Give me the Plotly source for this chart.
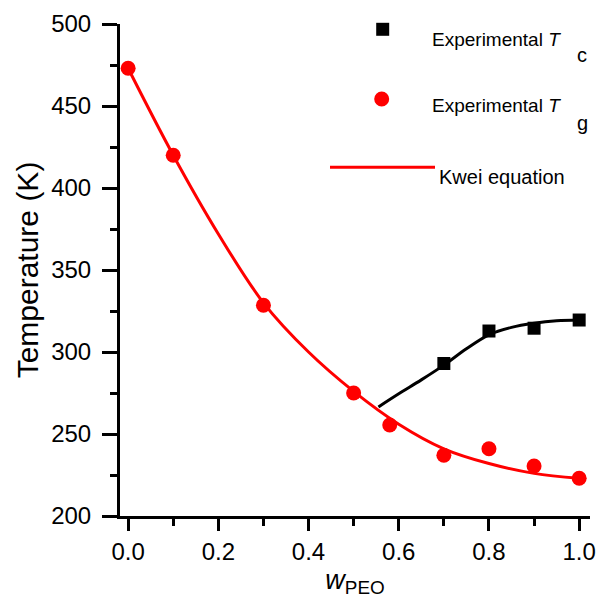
import plotly.graph_objects as go

# ---- data ----
tg_w = [0.0, 0.1, 0.3, 0.5, 0.58, 0.7, 0.8, 0.9, 1.0]
tg_T = [473, 420, 328.5, 275, 255.5, 237, 241, 230.5, 223]

tc_w = [0.7, 0.8, 0.9, 1.0]
tc_T = [293, 312.8, 314.5, 319.5]

kwei_w = [0.0, 0.1, 0.2, 0.3, 0.4, 0.5, 0.6, 0.7, 0.8, 0.9, 1.0]
kwei_T = [473, 420, 372, 330, 300, 276, 256, 241, 232, 226, 223]

tc_fit_w = [0.555, 0.6, 0.65, 0.7, 0.75, 0.8, 0.85, 0.9, 0.95, 1.0]
tc_fit_T = [266.5, 274.5, 283, 292, 302, 310.5, 315, 317.5, 319, 319.5]

y_ticks = [200, 250, 300, 350, 400, 450, 500]
x_ticks = [0.0, 0.2, 0.4, 0.6, 0.8, 1.0]
x_tick_text = ["0.0", "0.2", "0.4", "0.6", "0.8", "1.0"]

RED = "#FF0000"
FONT = "Liberation Sans, Arial, sans-serif"

fig = go.Figure()
fig.add_trace(go.Scatter(x=kwei_w, y=kwei_T, mode="lines", line=dict(color=RED, width=3, shape="spline"),
                         showlegend=False))
fig.add_trace(go.Scatter(x=tc_fit_w, y=tc_fit_T, mode="lines", line=dict(color="black", width=3, shape="spline"),
                         showlegend=False))
fig.add_trace(go.Scatter(x=tg_w, y=tg_T, mode="markers", marker=dict(color=RED, size=15, symbol="circle"),
                         showlegend=False))
fig.add_trace(go.Scatter(x=tc_w, y=tc_T, mode="markers", marker=dict(color="black", size=13, symbol="square"),
                         showlegend=False))

FW, FH = 600, 603
L, R, T, B = 120, 590, 24, 516  # plot area in page pixels
W, H = R - L, B - T


def px(x):
    return (x - L) / W


def py(y):
    return (B - y) / H


shapes = []
# legend square
shapes.append(dict(type="rect", xref="paper", yref="paper",
                   x0=px(382.7 - 6.5), x1=px(382.7 + 6.5), y0=py(29.3 + 6.5), y1=py(29.3 - 6.5),
                   fillcolor="black", line=dict(width=0)))
# legend circle
shapes.append(dict(type="circle", xref="paper", yref="paper",
                   x0=px(381.7 - 7.5), x1=px(381.7 + 7.5), y0=py(99 + 7.5), y1=py(99 - 7.5),
                   fillcolor=RED, line=dict(width=0)))
# legend line
shapes.append(dict(type="line", xref="paper", yref="paper",
                   x0=px(330), x1=px(435), y0=py(167.3), y1=py(167.3),
                   line=dict(color=RED, width=3)))

annotations = []


def ann(text, x, y, size):
    annotations.append(dict(text=text, xref="paper", yref="paper", x=px(x), y=py(y),
                            xanchor="left", yanchor="middle", showarrow=False,
                            font=dict(family=FONT, size=size, color="black"), borderpad=0))


ann("Experimental <i>T</i>", 431, 39, 19)
ann("c", 576, 55, 20)
ann("Experimental <i>T</i>", 431, 106, 19)
ann("g", 576, 123, 20)
ann("Kwei equation", 438, 177, 20)

fig.update_layout(
    width=FW, height=FH,
    margin=dict(l=L, r=FW - R, t=T, b=FH - B),
    paper_bgcolor="white", plot_bgcolor="white",
    shapes=shapes, annotations=annotations,
    font=dict(family=FONT, color="black"),
    showlegend=False,
)

fig.update_xaxes(
    automargin=False,
    range=[-0.018, 1.024], tickvals=x_ticks, ticktext=x_tick_text,
    showline=True, linecolor="black", linewidth=3, mirror=False,
    ticks="outside", ticklen=12, tickwidth=3, tickcolor="black",
    minor=dict(dtick=0.1, tick0=0.1, ticks="outside", ticklen=7, tickwidth=3, tickcolor="black", showgrid=False),
    showgrid=False, zeroline=False,
    tickfont=dict(family=FONT, size=24, color="black"),
    ticklabelstandoff=0,
    title=dict(text="<i>w</i><sub>PEO</sub>", font=dict(family=FONT, size=27, color="black"), standoff=0),
)
fig.update_yaxes(
    automargin=False,
    range=[200, 500], tickvals=y_ticks,
    showline=True, linecolor="black", linewidth=3, mirror=False,
    ticks="outside", ticklen=15, tickwidth=3, tickcolor="black",
    minor=dict(dtick=25, tick0=225, ticks="outside", ticklen=7, tickwidth=3, tickcolor="black", showgrid=False),
    showgrid=False, zeroline=False,
    tickfont=dict(family=FONT, size=24, color="black"),
    ticklabelstandoff=6,
    title=dict(text="Temperature (K)", font=dict(family=FONT, size=30, color="black"), standoff=4),
)

fig.write_html("out.html",
               config={"displayModeBar": False, "staticPlot": True},
               post_script="document.body.style.margin='0';document.body.style.overflow='hidden';")
